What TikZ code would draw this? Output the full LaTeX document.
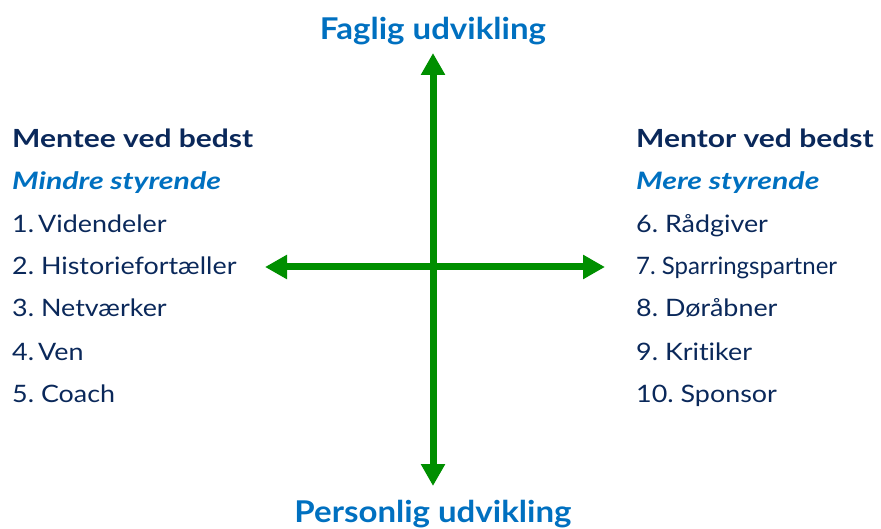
\documentclass[tikz,border=0pt]{standalone}
\usepackage{fontspec}
\setmainfont{Lato}
\newfontfamily\itemfont[FakeStretch=1.12,Ligatures=NoCommon]{Lato}
\newfontfamily\itemfontn[FakeStretch=1.0,Ligatures=NoCommon]{Lato}
\newfontfamily\headfont[FakeStretch=1.2]{Lato}
\newfontfamily\subfont[FakeStretch=1.26]{Lato}
\newfontfamily\ttlfont[FakeStretch=1.1]{Lato}
\usetikzlibrary{arrows.meta}
\definecolor{arrgreen}{RGB}{0,143,0}
\definecolor{titleblue}{RGB}{0,112,192}
\definecolor{navy}{RGB}{10,40,90}
\tikzset{
  axis/.style={draw=arrgreen,line width=7pt,{Triangle[length=22pt,width=23pt]}-{Triangle[length=22pt,width=23pt]}},
  ttl/.style={anchor=base,inner sep=0pt,text=titleblue,font=\ttlfont\fontsize{30}{34}\selectfont\bfseries},
  head/.style={anchor=base west,inner sep=0pt,text=navy,font=\headfont\fontsize{25}{28}\selectfont\bfseries},
  sub/.style={anchor=base west,inner sep=0pt,text=titleblue,font=\subfont\fontsize{24}{28}\selectfont\bfseries\itshape},
  item/.style={anchor=base west,inner sep=0pt,text=navy,font=\itemfont\fontsize{24}{28}\selectfont},
  itemn/.style={item,font=\itemfontn\fontsize{24}{28}\selectfont},
}
\frenchspacing
\begin{document}
\begin{tikzpicture}[x=1pt,y=-1pt]
\useasboundingbox (0,0) rectangle (881,529);
\coordinate (top) at (433,53);
\coordinate (bot) at (433,486);
\coordinate (lft) at (265,267);
\coordinate (rgt) at (605,267);
\draw[axis] (bot) -- (top);
\draw[axis] (lft) -- (rgt);
\node[ttl] (t1) at (433,40) {Faglig udvikling};
\node[ttl] (t2) at (433,522) {Personlig udvikling};
\node[head] (lh) at (12,148) {Mentee ved bedst};
\node[sub] (ls) at (12,190) {Mindre styrende};
\node[item] (l1) at (12,233) {1.\,Videndeler};
\node[item] (l2) at (12,275) {2. Historiefortæller};
\node[item] (l3) at (12,317) {3. Netværker};
\node[item] (l4) at (12,360) {4.\,Ven};
\node[item] (l5) at (12,402) {5. Coach};
\node[head] (rh) at (636,148) {Mentor ved bedst};
\node[sub] (rs) at (636,190) {Mere styrende};
\node[item] (r1) at (636,233) {6. Rådgiver};
\node[itemn] (r2) at (636,275) {7. Sparringspartner};
\node[item] (r3) at (636,317) {8. Døråbner};
\node[item] (r4) at (636,360) {9. Kritiker};
\node[item] (r5) at (636,402) {10. Sponsor};
\end{tikzpicture}
\end{document}
